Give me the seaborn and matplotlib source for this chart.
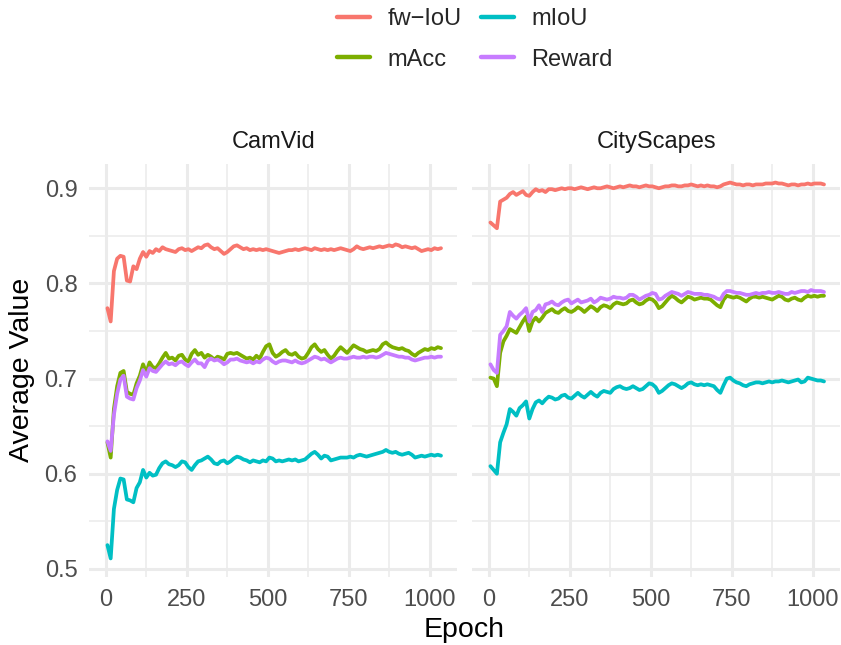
import matplotlib
matplotlib.use("Agg")
import matplotlib.pyplot as plt
import numpy as np
import pandas as pd
import seaborn as sns

# ---------------- data ----------------
epochs = list(range(5, 1036, 10))
datasets = ["CamVid", "CityScapes"]
metrics = ["fw\u2212IoU", "mAcc", "mIoU", "Reward"]
colors = ["#F8766D", "#7CAE00", "#00BFC4", "#C77CFF"]
x_ticks = [0, 250, 500, 750, 1000]
y_ticks = [0.5, 0.6, 0.7, 0.8, 0.9]

camvid_fwiou = [
    0.774, 0.760, 0.813, 0.826, 0.829, 0.828, 0.803, 0.802, 0.818, 0.815,
    0.826, 0.833, 0.828, 0.834, 0.832, 0.836, 0.834, 0.838, 0.836, 0.835,
    0.834, 0.833, 0.836, 0.837, 0.835, 0.836, 0.834, 0.836, 0.838, 0.837,
    0.840, 0.841, 0.838, 0.836, 0.837, 0.834, 0.831, 0.833, 0.836, 0.839,
    0.840, 0.838, 0.836, 0.837, 0.835, 0.836, 0.835, 0.836, 0.835, 0.836,
    0.835, 0.834, 0.833, 0.832, 0.833, 0.834, 0.835, 0.835, 0.836, 0.835,
    0.836, 0.837, 0.836, 0.835, 0.837, 0.836, 0.835, 0.836, 0.835, 0.836,
    0.835, 0.836, 0.837, 0.836, 0.835, 0.834, 0.836, 0.839, 0.837, 0.836,
    0.837, 0.838, 0.837, 0.838, 0.839, 0.838, 0.839, 0.840, 0.839, 0.841,
    0.840, 0.838, 0.839, 0.838, 0.837, 0.838, 0.836, 0.834, 0.835, 0.836,
    0.835, 0.837, 0.836, 0.837]
camvid_macc = [
    0.633, 0.617, 0.668, 0.692, 0.706, 0.708, 0.686, 0.684, 0.683, 0.695,
    0.703, 0.715, 0.706, 0.717, 0.712, 0.711, 0.716, 0.722, 0.727, 0.721,
    0.722, 0.719, 0.724, 0.725, 0.720, 0.718, 0.726, 0.730, 0.725, 0.727,
    0.722, 0.725, 0.723, 0.720, 0.723, 0.722, 0.720, 0.726, 0.727, 0.726,
    0.727, 0.725, 0.723, 0.721, 0.722, 0.720, 0.724, 0.721, 0.728, 0.734,
    0.736, 0.727, 0.723, 0.725, 0.728, 0.730, 0.726, 0.725, 0.727, 0.723,
    0.721, 0.722, 0.727, 0.733, 0.736, 0.731, 0.728, 0.730, 0.725, 0.721,
    0.724, 0.729, 0.733, 0.730, 0.727, 0.731, 0.735, 0.733, 0.731, 0.730,
    0.728, 0.729, 0.730, 0.729, 0.731, 0.736, 0.738, 0.735, 0.733, 0.732,
    0.731, 0.732, 0.730, 0.729, 0.726, 0.724, 0.727, 0.729, 0.731, 0.730,
    0.732, 0.731, 0.733, 0.732]
camvid_miou = [
    0.525, 0.511, 0.563, 0.583, 0.595, 0.594, 0.573, 0.572, 0.570, 0.585,
    0.591, 0.604, 0.596, 0.601, 0.598, 0.599, 0.606, 0.611, 0.613, 0.610,
    0.609, 0.607, 0.609, 0.613, 0.612, 0.607, 0.604, 0.609, 0.613, 0.614,
    0.616, 0.618, 0.615, 0.611, 0.610, 0.613, 0.614, 0.611, 0.613, 0.616,
    0.618, 0.617, 0.615, 0.614, 0.612, 0.614, 0.613, 0.612, 0.614, 0.613,
    0.617, 0.616, 0.613, 0.614, 0.613, 0.614, 0.615, 0.614, 0.615, 0.613,
    0.614, 0.615, 0.618, 0.621, 0.623, 0.620, 0.616, 0.619, 0.618, 0.614,
    0.615, 0.616, 0.617, 0.617, 0.617, 0.618, 0.617, 0.619, 0.620, 0.619,
    0.618, 0.619, 0.620, 0.621, 0.622, 0.623, 0.625, 0.623, 0.622, 0.623,
    0.621, 0.620, 0.621, 0.622, 0.620, 0.617, 0.618, 0.619, 0.618, 0.619,
    0.620, 0.619, 0.620, 0.619]
camvid_reward = [
    0.634, 0.624, 0.662, 0.684, 0.699, 0.703, 0.681, 0.679, 0.678, 0.690,
    0.698, 0.709, 0.702, 0.711, 0.708, 0.707, 0.711, 0.715, 0.718, 0.715,
    0.716, 0.714, 0.717, 0.718, 0.715, 0.713, 0.717, 0.720, 0.716, 0.716,
    0.712, 0.719, 0.721, 0.719, 0.720, 0.718, 0.715, 0.717, 0.720, 0.720,
    0.721, 0.719, 0.718, 0.717, 0.718, 0.716, 0.718, 0.717, 0.720, 0.722,
    0.721, 0.718, 0.716, 0.718, 0.719, 0.719, 0.718, 0.717, 0.719, 0.717,
    0.716, 0.717, 0.719, 0.721, 0.723, 0.722, 0.720, 0.721, 0.719, 0.717,
    0.719, 0.721, 0.722, 0.721, 0.721, 0.722, 0.723, 0.722, 0.722, 0.723,
    0.722, 0.723, 0.723, 0.722, 0.723, 0.725, 0.727, 0.726, 0.725, 0.724,
    0.723, 0.723, 0.722, 0.722, 0.720, 0.719, 0.720, 0.721, 0.722, 0.722,
    0.723, 0.722, 0.723, 0.723]

city_fwiou = [
    0.864, 0.861, 0.858, 0.886, 0.888, 0.890, 0.894, 0.896, 0.893, 0.895,
    0.897, 0.893, 0.892, 0.896, 0.899, 0.897, 0.898, 0.896, 0.899, 0.899,
    0.898, 0.899, 0.900, 0.899, 0.900, 0.900, 0.899, 0.900, 0.901, 0.900,
    0.899, 0.900, 0.901, 0.900, 0.900, 0.901, 0.902, 0.901, 0.900, 0.901,
    0.902, 0.901, 0.902, 0.903, 0.902, 0.902, 0.901, 0.902, 0.903, 0.902,
    0.902, 0.901, 0.900, 0.901, 0.902, 0.902, 0.903, 0.903, 0.902, 0.902,
    0.903, 0.903, 0.904, 0.903, 0.902, 0.903, 0.902, 0.903, 0.902, 0.902,
    0.901, 0.902, 0.904, 0.905, 0.906, 0.905, 0.904, 0.904, 0.903, 0.904,
    0.904, 0.903, 0.904, 0.904, 0.904, 0.905, 0.905, 0.905, 0.906, 0.905,
    0.905, 0.904, 0.903, 0.904, 0.904, 0.903, 0.904, 0.904, 0.905, 0.904,
    0.905, 0.905, 0.905, 0.904]
city_macc = [
    0.701, 0.700, 0.692, 0.727, 0.739, 0.745, 0.752, 0.750, 0.748, 0.754,
    0.760, 0.765, 0.750, 0.760, 0.764, 0.760, 0.764, 0.769, 0.771, 0.773,
    0.770, 0.769, 0.772, 0.774, 0.771, 0.770, 0.772, 0.775, 0.773, 0.770,
    0.773, 0.776, 0.774, 0.771, 0.775, 0.777, 0.776, 0.774, 0.778, 0.780,
    0.779, 0.778, 0.779, 0.782, 0.783, 0.780, 0.778, 0.779, 0.782, 0.784,
    0.783, 0.780, 0.774, 0.776, 0.780, 0.784, 0.787, 0.785, 0.782, 0.780,
    0.783, 0.786, 0.785, 0.783, 0.784, 0.785, 0.784, 0.784, 0.783, 0.780,
    0.777, 0.775, 0.783, 0.787, 0.786, 0.785, 0.786, 0.785, 0.783, 0.781,
    0.784, 0.786, 0.786, 0.785, 0.786, 0.785, 0.784, 0.783, 0.785, 0.787,
    0.786, 0.783, 0.782, 0.784, 0.785, 0.783, 0.782, 0.785, 0.787, 0.786,
    0.787, 0.786, 0.787, 0.787]
city_miou = [
    0.608, 0.604, 0.600, 0.633, 0.643, 0.652, 0.668, 0.665, 0.661, 0.669,
    0.672, 0.676, 0.658, 0.668, 0.675, 0.677, 0.674, 0.678, 0.681, 0.680,
    0.678, 0.679, 0.682, 0.683, 0.680, 0.679, 0.682, 0.685, 0.682, 0.680,
    0.683, 0.686, 0.683, 0.681, 0.685, 0.687, 0.686, 0.685, 0.689, 0.691,
    0.692, 0.690, 0.689, 0.690, 0.692, 0.690, 0.688, 0.689, 0.692, 0.695,
    0.694, 0.691, 0.685, 0.687, 0.690, 0.693, 0.695, 0.694, 0.692, 0.690,
    0.692, 0.695, 0.696, 0.694, 0.693, 0.694, 0.693, 0.694, 0.693, 0.692,
    0.688, 0.685, 0.693, 0.700, 0.701, 0.698, 0.696, 0.695, 0.693, 0.692,
    0.694, 0.695, 0.696, 0.696, 0.695, 0.696, 0.697, 0.696, 0.697, 0.697,
    0.698, 0.697, 0.696, 0.697, 0.698, 0.699, 0.696, 0.697, 0.701, 0.700,
    0.699, 0.698, 0.698, 0.697]
city_reward = [
    0.715, 0.709, 0.706, 0.746, 0.750, 0.755, 0.770, 0.766, 0.763, 0.767,
    0.770, 0.774, 0.760, 0.770, 0.772, 0.777, 0.770, 0.778, 0.779, 0.781,
    0.778, 0.777, 0.780, 0.782, 0.783, 0.779, 0.781, 0.783, 0.780, 0.781,
    0.782, 0.784, 0.780, 0.782, 0.785, 0.784, 0.783, 0.784, 0.786, 0.785,
    0.785, 0.784, 0.785, 0.788, 0.788, 0.786, 0.783, 0.785, 0.787, 0.788,
    0.790, 0.789, 0.783, 0.784, 0.787, 0.789, 0.791, 0.790, 0.789, 0.787,
    0.789, 0.791, 0.790, 0.789, 0.789, 0.789, 0.788, 0.788, 0.787, 0.786,
    0.784, 0.783, 0.789, 0.792, 0.792, 0.791, 0.790, 0.790, 0.789, 0.788,
    0.788, 0.789, 0.790, 0.789, 0.790, 0.790, 0.791, 0.790, 0.790, 0.791,
    0.790, 0.789, 0.789, 0.791, 0.790, 0.791, 0.792, 0.792, 0.791, 0.793,
    0.792, 0.792, 0.792, 0.791]

series = {
    "CamVid": [camvid_fwiou, camvid_macc, camvid_miou, camvid_reward],
    "CityScapes": [city_fwiou, city_macc, city_miou, city_reward],
}

rows = []
for ds in datasets:
    for m, vals in zip(metrics, series[ds]):
        for e, v in zip(epochs, vals):
            rows.append({"Dataset": ds, "Metric": m, "Epoch": e, "Value": v})
df = pd.DataFrame(rows)

# ---------------- style ----------------
sns.set_theme(style="white")
plt.rcParams["font.family"] = ["Liberation Sans", "DejaVu Sans"]

W, H = 841, 645
fig = plt.figure(figsize=(W / 100, H / 100), dpi=100)

panel_left = [89.3, 472.3]
panel_w = 367.9
panel_top, panel_bot = 163.7, 577.0

palette = dict(zip(metrics, colors))
handles, labels = None, None
for i, ds in enumerate(datasets):
    ax = fig.add_axes([panel_left[i] / W, 1 - panel_bot / H,
                       panel_w / W, (panel_bot - panel_top) / H])
    sub = df[df["Dataset"] == ds]
    sns.lineplot(data=sub, x="Epoch", y="Value", hue="Metric",
                 hue_order=metrics, palette=palette, estimator=None,
                 linewidth=2.7, ax=ax, legend=(i == 0))
    if i == 0:
        handles, labels = ax.get_legend_handles_labels()
        ax.get_legend().remove()
    ax.set_xlim(-51, 1085)
    ax.set_ylim(0.4915, 0.9258)
    ax.set_xticks(x_ticks)
    ax.set_xticks([125, 375, 625, 875], minor=True)
    ax.set_yticks(y_ticks)
    ax.set_yticks([0.55, 0.65, 0.75, 0.85], minor=True)
    ax.set_xticklabels([str(t) for t in x_ticks])
    if i == 0:
        ax.set_yticklabels([f"{t:.1f}" for t in y_ticks])
    else:
        ax.set_yticklabels([])
    ax.grid(which="major", color="#EBEBEB", linewidth=2.2)
    ax.grid(which="minor", color="#EBEBEB", linewidth=1.1)
    ax.set_axisbelow(True)
    for s in ax.spines.values():
        s.set_visible(False)
    ax.tick_params(which="both", length=0)
    ax.tick_params(axis="x", labelsize=17, labelcolor="#4D4D4D", pad=9.0)
    ax.tick_params(axis="y", labelsize=17, labelcolor="#4D4D4D", pad=8.5)
    ax.set_xlabel("")
    ax.set_ylabel("")
    ax.text(0.5, 1 + 21.7 / (panel_bot - panel_top), ds, transform=ax.transAxes,
            ha="center", va="center", fontsize=17, color="#1A1A1A")

fig.text(464.6 / W, 1 - 630 / H, "Epoch", ha="center", va="center",
         fontsize=20.5, color="black")
fig.text(22 / W, 1 - 370 / H, "Average Value", ha="center", va="center",
         rotation=90, fontsize=20.5, color="black")

for h in handles:
    h.set_linewidth(3.2)
fig.legend(handles, labels, loc="center", bbox_to_anchor=(475 / W, 1 - 39.5 / H),
           ncol=2, frameon=False, fontsize=17, handlelength=1.4,
           handletextpad=0.75, columnspacing=0.8, labelspacing=0.77,
           borderpad=0, borderaxespad=0)

fig.savefig("out.png", dpi=100)
